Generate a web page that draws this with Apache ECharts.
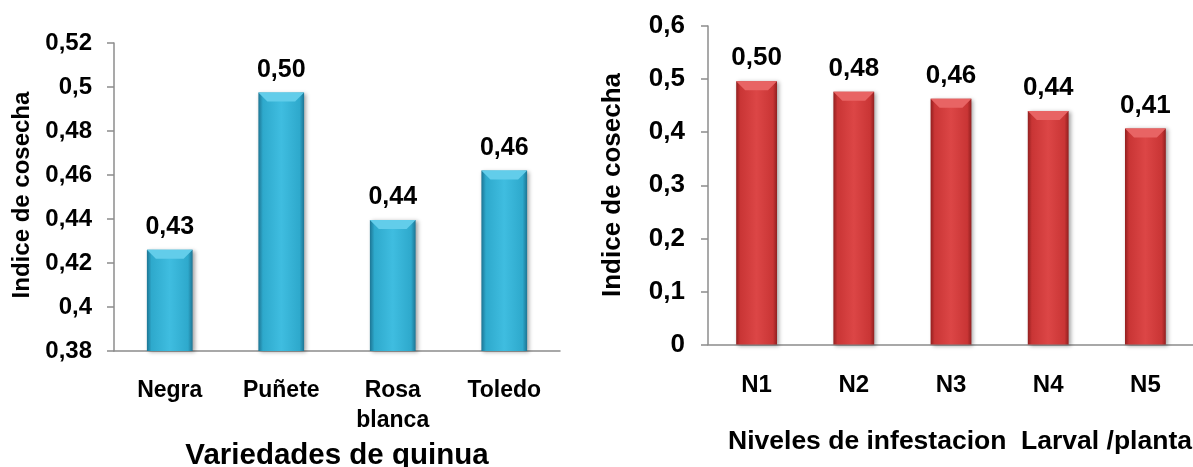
<!DOCTYPE html>
<html>
<head>
<meta charset="utf-8">
<script src="https://cdn.jsdelivr.net/npm/echarts@6/dist/echarts.min.js"></script>
<style>
html,body{margin:0;padding:0;background:#fff;}
#c{width:1193px;height:467px;}
</style>
</head>
<body>
<div id="c"></div>
<script>
// Left chart data
const varieties = ['Negra', 'Puñete', 'Rosa\nblanca', 'Toledo'];
const indexByVariety = [0.426, 0.4975, 0.4395, 0.462];
const leftTicks = { min: 0.38, max: 0.52, interval: 0.02 };
const leftXName = 'Variedades de quinua';
const leftYName = 'Indice de cosecha';

// Right chart data
const levels = ['N1', 'N2', 'N3', 'N4', 'N5'];
const indexByLevel = [0.496, 0.476, 0.463, 0.440, 0.407];
const rightTicks = { min: 0, max: 0.6, interval: 0.1 };
const rightXName = 'Niveles de infestacion  Larval /planta';
const rightYName = 'Indice de cosecha';

const FONT = '"Liberation Sans", Arial, sans-serif';
const comma = v => String(parseFloat(Number(v).toFixed(2))).replace('.', ',');
const comma2 = v => Number(v).toFixed(2).replace('.', ',');

function barGrad(dark, mid, light) {
  return new echarts.graphic.LinearGradient(0, 0, 1, 0, [
    { offset: 0, color: dark },
    { offset: 0.1, color: mid },
    { offset: 0.5, color: light },
    { offset: 0.9, color: mid },
    { offset: 1, color: dark }
  ]);
}

// top bevel drawn from the same data via the axis scales
function bevel(widthRatio, fill) {
  return function (params, api) {
    const top = api.coord([api.value(0), api.value(1)]);
    const band = api.size([1, 0])[0];
    const w = band * widthRatio;
    const h = 9, inset = 9;
    const x0 = top[0] - w / 2, x1 = top[0] + w / 2, y = top[1];
    return {
      type: 'polygon',
      shape: { points: [[x0, y], [x1, y], [x1 - inset, y + h], [x0 + inset, y + h]] },
      style: { fill: fill },
      silent: true
    };
  };
}

const chart = echarts.init(document.getElementById('c'), null, { renderer: 'canvas' });
const axisGray = '#8c8c8c';

chart.setOption({
  backgroundColor: '#ffffff',
  animation: false,
  textStyle: { fontFamily: FONT },
  grid: [
    { left: 114, top: 43, width: 446, height: 308, containLabel: false, outerBoundsMode: 'none' },
    { left: 708, top: 26, width: 486, height: 318.5, containLabel: false, outerBoundsMode: 'none' }
  ],
  xAxis: [
    {
      gridIndex: 0, type: 'category', data: varieties,
      axisLine: { lineStyle: { color: axisGray, width: 1.5 } },
      axisTick: { show: false },
      axisLabel: { color: '#000', fontWeight: 'bold', fontSize: 23, fontFamily: FONT, margin: 25, lineHeight: 30, interval: 0 },
      name: leftXName, nameLocation: 'middle', nameGap: 86,
      nameTextStyle: { color: '#000', fontWeight: 'bold', fontSize: 29.5, fontFamily: FONT }
    },
    {
      gridIndex: 1, type: 'category', data: levels,
      axisLine: { lineStyle: { color: axisGray, width: 1.5 } },
      axisTick: { show: false },
      axisLabel: { color: '#000', fontWeight: 'bold', fontSize: 24, fontFamily: FONT, margin: 29, interval: 0 },
      name: rightXName, nameLocation: 'middle', nameGap: 84,
      nameTextStyle: { color: '#000', fontWeight: 'bold', fontSize: 26.5, fontFamily: FONT, padding: [0, 0, 0, 18] }
    }
  ],
  yAxis: [
    {
      gridIndex: 0, type: 'value', min: leftTicks.min, max: leftTicks.max, interval: leftTicks.interval,
      axisLine: { show: true, lineStyle: { color: axisGray, width: 1.5 } },
      axisTick: { show: true, length: 7, lineStyle: { color: axisGray, width: 1.5 } },
      splitLine: { show: false },
      axisLabel: { color: '#000', fontWeight: 'bold', fontSize: 24, fontFamily: FONT, margin: 22, formatter: comma }
    },
    {
      gridIndex: 1, type: 'value', min: rightTicks.min, max: rightTicks.max, interval: rightTicks.interval,
      axisLine: { show: true, lineStyle: { color: axisGray, width: 1.5 } },
      axisTick: { show: true, length: 7, lineStyle: { color: axisGray, width: 1.5 } },
      splitLine: { show: false },
      axisLabel: { color: '#000', fontWeight: 'bold', fontSize: 26, fontFamily: FONT, margin: 23, formatter: comma }
    }
  ],
  graphic: [
    {
      type: 'text', x: 22, y: 195, rotation: Math.PI / 2,
      style: { text: leftYName, fill: '#000', font: 'bold 24px ' + FONT, textAlign: 'center', textVerticalAlign: 'middle' }
    },
    {
      type: 'text', x: 613, y: 185, rotation: Math.PI / 2,
      style: { text: rightYName, fill: '#000', font: 'bold 26px ' + FONT, textAlign: 'center', textVerticalAlign: 'middle' }
    }
  ],
  series: [
    {
      type: 'bar', xAxisIndex: 0, yAxisIndex: 0, data: indexByVariety, barWidth: '41%',
      itemStyle: {
        color: barGrad('#1d7594', '#2ea9cc', '#3fbde0'),
        shadowColor: 'rgba(0,0,0,0.35)', shadowBlur: 4, shadowOffsetX: 2, shadowOffsetY: 1
      },
      label: { show: true, position: 'top', distance: 10, color: '#000', fontWeight: 'bold', fontSize: 25, fontFamily: FONT, formatter: p => comma2(p.value) }
    },
    {
      type: 'custom', xAxisIndex: 0, yAxisIndex: 0, z: 3,
      data: indexByVariety.map((v, i) => [i, v]),
      renderItem: bevel(0.41, '#62cdea')
    },
    {
      type: 'bar', xAxisIndex: 1, yAxisIndex: 1, data: indexByLevel, barWidth: '42%',
      itemStyle: {
        color: barGrad('#921f1f', '#c93535', '#dc4646'),
        shadowColor: 'rgba(0,0,0,0.35)', shadowBlur: 4, shadowOffsetX: 2, shadowOffsetY: 1
      },
      label: { show: true, position: 'top', distance: 10, color: '#000', fontWeight: 'bold', fontSize: 26, fontFamily: FONT, formatter: p => comma2(p.value) }
    },
    {
      type: 'custom', xAxisIndex: 1, yAxisIndex: 1, z: 3,
      data: indexByLevel.map((v, i) => [i, v]),
      renderItem: bevel(0.42, '#e86464')
    }
  ]
});
</script>
</body>
</html>
